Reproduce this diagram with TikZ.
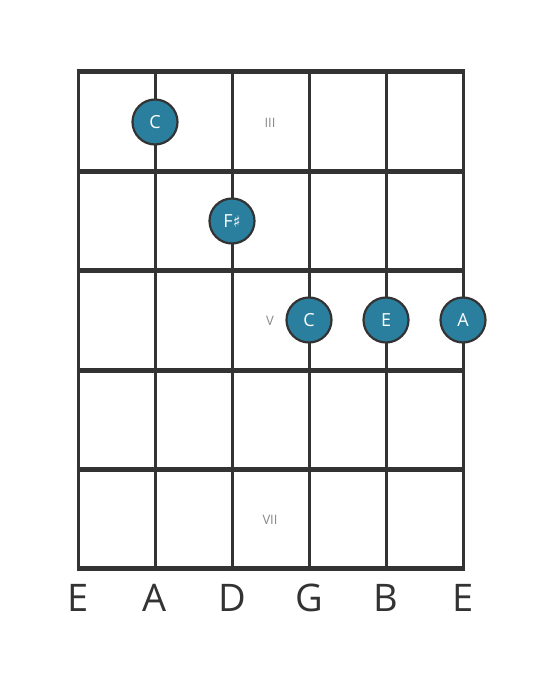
\documentclass[tikz,border=0pt]{standalone}
\usepackage{fontspec}
\setmainfont{Open Sans}
\newfontfamily\symfont{DejaVu Sans}
\definecolor{gridc}{HTML}{333333}
\definecolor{dotc}{HTML}{2A7F9E}
\definecolor{labc}{HTML}{888888}
\begin{document}
\begin{tikzpicture}[x=1pt,y=-1pt,
  fretline/.style={draw=gridc,line width=5pt},
  stringline/.style={draw=gridc,line width=3pt},
  notedot/.style={circle,draw=gridc,line width=2.2pt,fill=dotc,minimum size=45pt,inner sep=0pt,text=white,font=\fontsize{18}{18}\selectfont},
  fretnum/.style={text=labc,font=\fontsize{13}{13}\selectfont},
  strname/.style={text=gridc,font=\fontsize{38}{38}\selectfont}]
\useasboundingbox (0,0) rectangle (559,682);
% strings
\foreach \x/\n in {78/s1,155/s2,232/s3,309/s4,386/s5,463/s6}{
  \coordinate (\n t) at (\x,72);
  \coordinate (\n b) at (\x,568);
  \draw[stringline] (\n t) -- (\n b);
}
% frets
\foreach \y/\n in {72/f0,171/f1,270/f2,370/f3,469/f4,568/f5}{
  \coordinate (\n l) at (76.5,\y);
  \coordinate (\n r) at (464.5,\y);
  \draw[fretline] (\n l) -- (\n r);
}
% fret numbers
\node[fretnum] (n3) at (270,123) {III};
\node[fretnum] (n5) at (270,321) {V};
\node[fretnum] (n7) at (270,520) {VII};
% dots
\node[notedot] (d1) at (155,122) {C};
\node[notedot] (d2) at (232,221) {F{\symfont\fontsize{16}{16}\selectfont ♯}};
\node[notedot] (d3) at (309,320) {C};
\node[notedot] (d4) at (386,320) {E};
\node[notedot] (d5) at (463,320) {A};
% string names
\foreach \x/\t/\n in {78/E/l1,155/A/l2,232/D/l3,309/G/l4,386/B/l5,463/E/l6}{
  \node[strname] (\n) at (\x,598) {\t};
}
\end{tikzpicture}
\end{document}
